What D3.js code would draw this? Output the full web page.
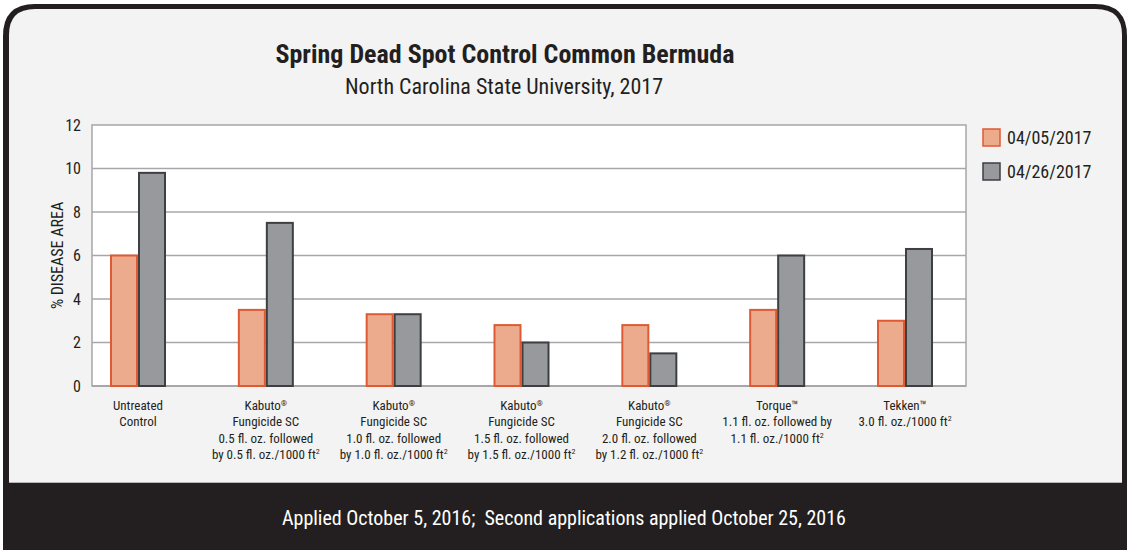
<!DOCTYPE html>
<html>
<head>
<meta charset="utf-8">
<script src="https://cdn.jsdelivr.net/npm/d3@7"></script>
<style>
  html, body { margin: 0; padding: 0; background: #ffffff; }
  svg { display: block; }
</style>
</head>
<body>
<div id="chart"></div>
<script>
// Chart data
const categories = ['untreated', 'kab05', 'kab10', 'kab15', 'kab20', 'torque', 'tekken'];
const categoryLabels = [
    [['Untreated'], ['Control']],
    [['Kabuto', '®'], ['Fungicide SC'], ['0.5 fl. oz. followed'], ['by 0.5 fl. oz./1000 ft', '2']],
    [['Kabuto', '®'], ['Fungicide SC'], ['1.0 fl. oz. followed'], ['by 1.0 fl. oz./1000 ft', '2']],
    [['Kabuto', '®'], ['Fungicide SC'], ['1.5 fl. oz. followed'], ['by 1.5 fl. oz./1000 ft', '2']],
    [['Kabuto', '®'], ['Fungicide SC'], ['2.0 fl. oz. followed'], ['by 1.2 fl. oz./1000 ft', '2']],
    [['Torque™'], ['1.1 fl. oz. followed by'], ['1.1 fl. oz./1000 ft', '2']],
    [['Tekken™'], ['3.0 fl. oz./1000 ft', '2']]
];
const seriesNames = ['04/05/2017', '04/26/2017'];
const april05 = [6.0, 3.5, 3.3, 2.8, 2.8, 3.5, 3.0];
const april26 = [9.8, 7.5, 3.3, 2.0, 1.5, 6.0, 6.3];
const yTicks = [0, 2, 4, 6, 8, 10, 12];

const W = 1128, H = 550;
const plot = { left: 92, right: 966, top: 125, bottom: 386 };
const FONT = "'Liberation Sans Narrow', 'Roboto Condensed', 'DejaVu Sans Condensed', 'Liberation Sans', sans-serif";
const colors = {
    fill: ['#edab8e', '#98999d'],
    stroke: ['#df5a33', '#3e3f43']
};

const svg = d3.select('#chart').append('svg')
    .attr('width', W)
    .attr('height', H);

// Frame with rounded top corners
function topRounded(x0, y0, x1, y1, r) {
    return `M${x0},${y1} L${x0},${y0 + r} Q${x0},${y0} ${x0 + r},${y0} ` +
        `L${x1 - r},${y0} Q${x1},${y0} ${x1},${y0 + r} L${x1},${y1} Z`;
}
svg.append('path').attr('d', topRounded(3, 4, 1127, 550, 32)).attr('fill', '#231f20');
svg.append('path').attr('d', topRounded(9, 9, 1122, 483, 26)).attr('fill', '#f3f3f3');
svg.append('line')
    .attr('x1', 9).attr('x2', 1122).attr('y1', 482.5).attr('y2', 482.5)
    .attr('stroke', '#b5b5b5').attr('stroke-width', 1);

// Titles
svg.append('text')
    .attr('x', 505).attr('y', 63)
    .attr('text-anchor', 'middle')
    .attr('font-family', FONT)
    .attr('font-weight', 'bold')
    .attr('font-size', 26)
    .attr('fill', '#231f20')
    .text('Spring Dead Spot Control Common Bermuda');
svg.append('text')
    .attr('x', 504).attr('y', 94)
    .attr('text-anchor', 'middle')
    .attr('font-family', FONT)
    .attr('font-size', 22)
    .attr('fill', '#231f20')
    .text('North Carolina State University, 2017');

// Scales
const x = d3.scalePoint()
    .domain(categories)
    .range([plot.left + 46, plot.right - 61]);
const x1 = d3.scaleBand()
    .domain(seriesNames)
    .range([-28, 28])
    .padding(0);
const y = d3.scaleLinear()
    .domain([0, 12])
    .range([plot.bottom, plot.top]);

// Plot background
svg.append('rect')
    .attr('x', plot.left).attr('y', plot.top)
    .attr('width', plot.right - plot.left)
    .attr('height', plot.bottom - plot.top)
    .attr('fill', '#ffffff')
    .attr('stroke', '#a7a7a9')
    .attr('stroke-width', 1.5);

// Gridlines
svg.append('g')
    .selectAll('line')
    .data(yTicks.filter(t => t > 0 && t < 12))
    .join('line')
    .attr('x1', plot.left).attr('x2', plot.right)
    .attr('y1', d => y(d)).attr('y2', d => y(d))
    .attr('stroke', '#a7a7a9')
    .attr('stroke-width', 1.5);

// Y axis
const yAxis = svg.append('g')
    .attr('transform', `translate(${plot.left},0)`)
    .call(d3.axisLeft(y).tickValues(yTicks).tickSize(0).tickPadding(11));
yAxis.select('.domain').remove();
yAxis.selectAll('text')
    .attr('font-family', FONT)
    .attr('font-size', 16)
    .attr('fill', '#231f20');

svg.append('line')
    .attr('x1', plot.left).attr('x2', plot.right)
    .attr('y1', plot.bottom).attr('y2', plot.bottom)
    .attr('stroke', '#a7a7a9')
    .attr('stroke-width', 2);

svg.append('text')
    .attr('transform', `translate(63,${(plot.top + plot.bottom) / 2}) rotate(-90)`)
    .attr('text-anchor', 'middle')
    .attr('font-family', FONT)
    .attr('font-size', 16)
    .attr('fill', '#231f20')
    .text('% DISEASE AREA');

// Bars
const seriesData = [april05, april26];
const groups = svg.append('g')
    .selectAll('g')
    .data(categories)
    .join('g')
    .attr('transform', d => `translate(${x(d)},0)`);

groups.selectAll('rect')
    .data((d, i) => seriesNames.map((s, j) => ({ series: s, idx: j, value: seriesData[j][i] })))
    .join('rect')
    .attr('x', d => x1(d.series) + 1)
    .attr('y', d => y(d.value))
    .attr('width', x1.bandwidth() - 2)
    .attr('height', d => y(0) - y(d.value))
    .attr('fill', d => colors.fill[d.idx])
    .attr('stroke', d => colors.stroke[d.idx])
    .attr('stroke-width', 2);

// Category labels
groups.each(function(d, i) {
    const t = d3.select(this).append('text')
        .attr('text-anchor', 'middle')
        .attr('font-family', FONT)
        .attr('font-size', 13)
        .attr('fill', '#231f20');
    categoryLabels[i].forEach((line, k) => {
        t.append('tspan')
            .attr('x', 0)
            .attr('y', 410 + k * 16.3)
            .text(line[0]);
        if (line[1]) {
            t.append('tspan')
                .attr('dy', line[0] === 'Kabuto' ? -4 : -5)
                .attr('font-size', 8)
                .text(line[1]);
        }
    });
});

// Legend
const legend = svg.append('g')
    .selectAll('g')
    .data(seriesNames)
    .join('g')
    .attr('transform', (d, i) => `translate(983,${129 + i * 34})`);
legend.append('rect')
    .attr('width', 17).attr('height', 17)
    .attr('fill', (d, i) => colors.fill[i])
    .attr('stroke', (d, i) => colors.stroke[i])
    .attr('stroke-width', 1.5);
legend.append('text')
    .attr('x', 24).attr('y', 15)
    .attr('font-family', FONT)
    .attr('font-size', 18)
    .attr('fill', '#231f20')
    .text(d => d);

// Footer
svg.append('text')
    .attr('x', 564).attr('y', 525)
    .attr('text-anchor', 'middle')
    .attr('font-family', FONT)
    .attr('font-size', 20)
    .attr('fill', '#ffffff')
    .attr('xml:space', 'preserve')
    .text('Applied October 5, 2016;  Second applications applied October 25, 2016');
</script>
</body>
</html>
